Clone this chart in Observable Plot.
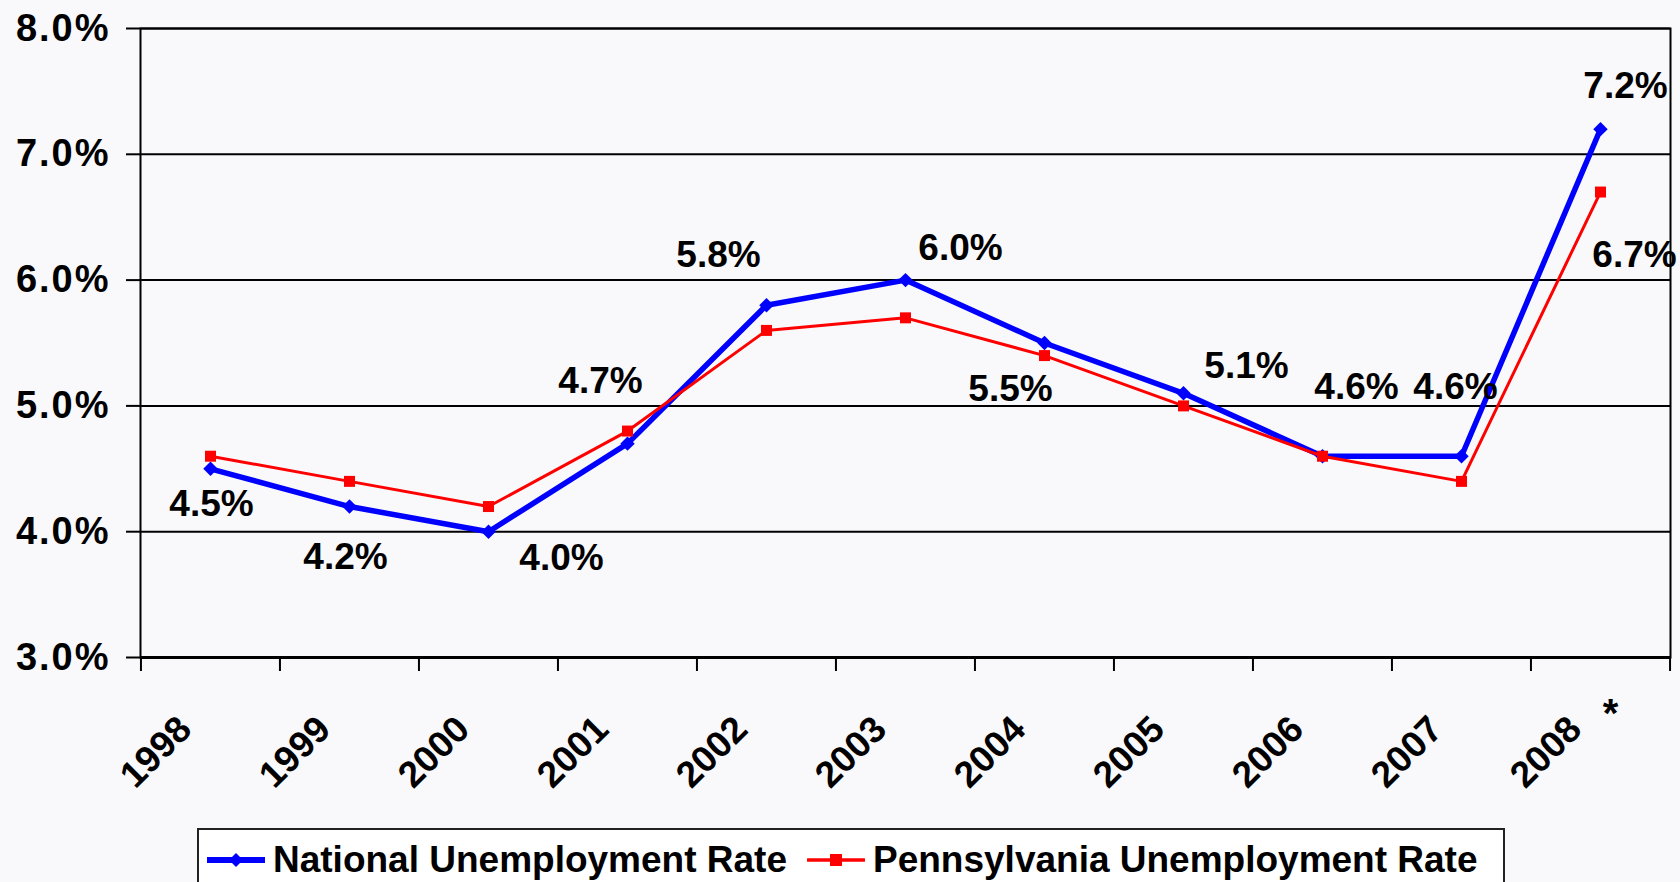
<!DOCTYPE html>
<html>
<head>
<meta charset="utf-8">
<script src="https://cdn.jsdelivr.net/npm/d3@7"></script>
<script src="https://cdn.jsdelivr.net/npm/@observablehq/plot@0.6"></script>
<style>
  html, body { margin: 0; padding: 0; background: #f9f9fb; overflow: hidden; }
  body { width: 1680px; height: 882px; font-family: Arial, "Liberation Sans", sans-serif; }
  #chart svg { display: block; }
  #chart svg [aria-label="y-axis tick label"] text { letter-spacing: 2px; }
  #legend {
    margin-left: 197px; width: 1308px; height: 64px; box-sizing: border-box;
    border: 2px solid #222; background: #ffffff;
    display: flex; align-items: center; padding-left: 8px;
    font-family: Arial, "Liberation Sans", sans-serif; font-weight: bold; font-size: 37px; color: #000;
  }
  #legend .item { display: flex; align-items: center; white-space: nowrap; }
  #legend .item svg { display: block; margin-right: 8px; }
</style>
</head>
<body>
<div id="chart"></div>
<div id="legend"></div>
<script>
// ---- data ----
const years = ["1998", "1999", "2000", "2001", "2002", "2003", "2004", "2005", "2006", "2007", "2008"];
const national = [4.5, 4.2, 4.0, 4.7, 5.8, 6.0, 5.5, 5.1, 4.6, 4.6, 7.2];
const pennsylvania = [4.6, 4.4, 4.2, 4.8, 5.6, 5.7, 5.4, 5.0, 4.6, 4.4, 6.7];
const yTicks = [3, 4, 5, 6, 7, 8];
const seriesNames = ["National Unemployment Rate", "Pennsylvania Unemployment Rate"];
const seriesColors = ["#0000ff", "#ff0000"];
const footnoteYear = "2008";
const footnoteMark = "*";

// ---- layout ----
const W = 1680, H = 828;
const mL = 140, mR = 10, mT = 28, mB = 171;
const step = (W - mL - mR) / years.length;
const font = 'Arial, "Liberation Sans", sans-serif';

// label offsets (px) relative to each point, national series, then PA 2008
const natLabelOffsets = [[1, 35], [-4, 51], [73, 26], [-27, -62], [-48, -50], [55, -32], [-34, 46], [63, -27], [34, -69], [-6, -69], [25, -43]];
const paLabelYear = "2008";
const paLabelOffset = [34, 63];

const nat = years.map((year, i) => ({year, value: national[i]}));
const pa = years.map((year, i) => ({year, value: pennsylvania[i]}));
const fmt = v => v.toFixed(1) + "%";

const labelMarks = nat.map((d, i) => Plot.text([d], {
  x: "year", y: "value", text: d => fmt(d.value),
  dx: natLabelOffsets[i][0], dy: natLabelOffsets[i][1],
  fontSize: 37, fontWeight: "bold", fill: "#000", textAnchor: "middle", lineAnchor: "middle"
}));
const paL = pa.find(d => d.year === paLabelYear);
labelMarks.push(Plot.text([paL], {
  x: "year", y: "value", text: d => fmt(d.value),
  dx: paLabelOffset[0], dy: paLabelOffset[1],
  fontSize: 37, fontWeight: "bold", fill: "#000", textAnchor: "middle", lineAnchor: "middle"
}));

const chart = Plot.plot({
  width: W, height: H,
  marginLeft: mL, marginRight: mR, marginTop: mT, marginBottom: mB,
  style: {background: "transparent", fontFamily: font, fontSize: "37px", fontWeight: "bold", color: "#000"},
  x: {type: "point", domain: years, padding: 0.5, align: 0.5, label: null},
  y: {domain: [3, 8], label: null},
  marks: [
    Plot.ruleY(yTicks, {stroke: "#000", strokeWidth: 2}),
    Plot.ruleY([3], {stroke: "#000", strokeWidth: 3}),
    Plot.frame({stroke: "#000", strokeWidth: 2}),
    Plot.axisY(yTicks, {label: null, tickSize: 14, tickPadding: 16, tickFormat: fmt, stroke: "#000", strokeWidth: 2, fontSize: 38, fontWeight: "bold"}),
    Plot.axisX(years, {label: null, tickSize: 14, tickFormat: () => "", dx: -step / 2, stroke: "#000", strokeWidth: 2}),
    Plot.axisX([years[years.length - 1]], {label: null, tickSize: 14, tickFormat: () => "", dx: step / 2, stroke: "#000", strokeWidth: 2}),
    Plot.text(years, {x: d => d, frameAnchor: "bottom", text: d => d, rotate: -45, textAnchor: "end", lineAnchor: "bottom", dx: -17, dy: 74, fontSize: 37, fontWeight: "bold", fill: "#000"}),
    Plot.text([footnoteYear], {x: d => d, frameAnchor: "bottom", text: () => footnoteMark, textAnchor: "middle", lineAnchor: "bottom", dx: 10, dy: 69, fontSize: 40, fontWeight: "bold", fill: "#000"}),
    Plot.line(nat, {x: "year", y: "value", stroke: seriesColors[0], strokeWidth: 5.5}),
    Plot.dot(nat, {x: "year", y: "value", symbol: "diamond2", r: 6.5, fill: seriesColors[0], stroke: null}),
    Plot.line(pa, {x: "year", y: "value", stroke: seriesColors[1], strokeWidth: 3}),
    Plot.dot(pa, {x: "year", y: "value", symbol: "square", r: 6.2, fill: seriesColors[1], stroke: null}),
    ...labelMarks
  ]
});
document.getElementById("chart").appendChild(chart);

// ---- legend ----
const legend = document.getElementById("legend");
seriesNames.forEach((name, i) => {
  const item = document.createElement("div");
  item.className = "item";
  if (i > 0) item.style.marginLeft = "20px";
  const svgNS = "http://www.w3.org/2000/svg";
  const s = document.createElementNS(svgNS, "svg");
  s.setAttribute("width", 58); s.setAttribute("height", 20);
  const ln = document.createElementNS(svgNS, "line");
  ln.setAttribute("x1", 1); ln.setAttribute("x2", 57); ln.setAttribute("y1", 10); ln.setAttribute("y2", 10);
  ln.setAttribute("stroke", seriesColors[i]); ln.setAttribute("stroke-width", i === 0 ? 6 : 3.5);
  ln.setAttribute("stroke-linecap", "round");
  s.appendChild(ln);
  const m = document.createElementNS(svgNS, "path");
  m.setAttribute("d", i === 0 ? "M29,3L36,10L29,17L22,10Z" : "M23,4H35V16H23Z");
  m.setAttribute("fill", seriesColors[i]);
  s.appendChild(m);
  const t = document.createElement("span");
  t.textContent = name;
  item.appendChild(s); item.appendChild(t);
  legend.appendChild(item);
});
</script>
</body>
</html>
